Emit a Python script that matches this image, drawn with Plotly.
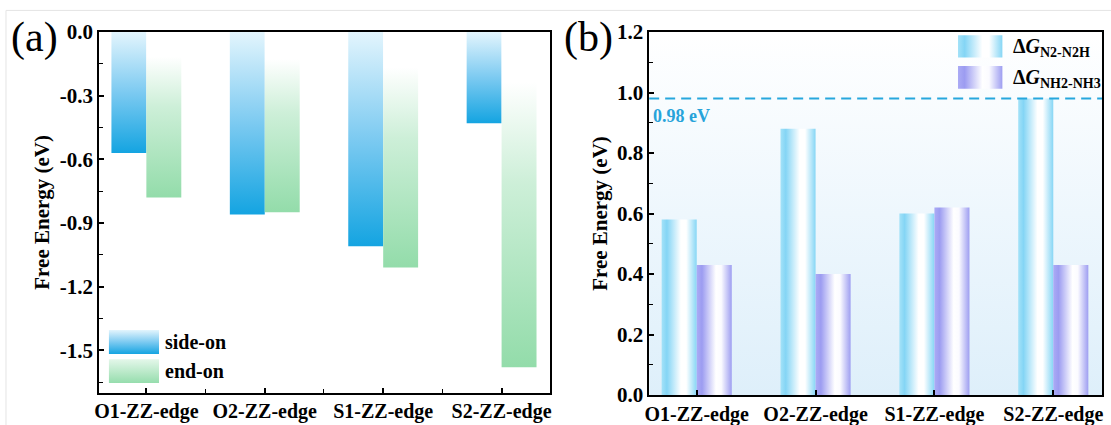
import plotly.graph_objects as go

# ---------------- data ----------------
categories = ["O1-ZZ-edge", "O2-ZZ-edge", "S1-ZZ-edge", "S2-ZZ-edge"]
side_on = [-0.57, -0.86, -1.01, -0.43]
end_on = [-0.78, -0.85, -1.11, -1.58]
dg_n2_n2h = [0.58, 0.88, 0.60, 0.98]
dg_nh2_nh3 = [0.43, 0.40, 0.62, 0.43]
limit_value = 0.98
ticks_a = [0.0, -0.3, -0.6, -0.9, -1.2, -1.5]
ticks_b = [0.0, 0.2, 0.4, 0.6, 0.8, 1.0, 1.2]
legend_a = ["side-on", "end-on"]
legend_b = ["Δ<i>G</i><sub>N2-N2H</sub>", "Δ<i>G</i><sub>NH2-NH3</sub>"]

# ---------------- layout constants ----------------
W, H = 1111, 425
ML, MR, MT, MB = 99, 9.3, 31.6, 30
PW = W - ML - MR
PH = H - MT - MB
dom_a = [0, (550 - ML) / PW]
dom_b = [(649 - ML) / PW, 1]
ydom_a = [(395 - 392.7) / PH, 1]
XR = [-0.40, 3.41]
YR_A = [-1.70, 0.0]
YR_B = [0.0, 1.2]
BAR_W = 0.295
FONT = "Liberation Serif, Times New Roman, Times, serif"

idx = list(range(len(categories)))


def rect(x0, x1, y0, y1):
    return [x0, x1, x1, x0, x0], [y0, y0, y1, y1, y0]


def bar(center, base, top):
    return rect(center - BAR_W / 2, center + BAR_W / 2, base, top)


def fx(frac):
    return XR[0] + frac * (XR[1] - XR[0])


def fy(frac, yr):
    return yr[0] + frac * (yr[1] - yr[0])


def filled(x, y, gtype, scale, xa, ya):
    return go.Scatter(x=x, y=y, mode="lines", line=dict(width=0), fill="toself",
                      fillgradient=dict(type=gtype, colorscale=scale),
                      showlegend=False, hoverinfo="skip", xaxis=xa, yaxis=ya)


fig = go.Figure()

# colour scales
side_scale = [[0, "#14a4e1"], [0.5, "#7ccaf1"], [1, "#e3f5fd"]]
end_scale = [[0, "#93dcaa"], [0.55, "#cdefd8"], [0.85, "#ffffff"], [1, "#ffffff"]]
end_swatch = [[0, "#96ddad"], [1, "#e4f7ea"]]
cyan_scale = [[0, "#a4e2f8"], [0.15, "#84d5f5"], [0.55, "#ffffff"], [0.7, "#ffffff"], [1, "#86d6f5"]]
purp_scale = [[0, "#ababf5"], [0.15, "#9c9cf1"], [0.55, "#ffffff"], [0.7, "#fbfbff"], [1, "#9e9ef1"]]
bg_scale = [[0, "#deeffa"], [0.5, "#eef7fd"], [1, "#ffffff"]]

# ---- panel (b) background gradient ----
x, y = rect(XR[0], XR[1], YR_B[0], YR_B[1])
fig.add_trace(filled(x, y, "vertical", bg_scale, "x2", "y2"))

# ---- panel (a) bars ----
for i in idx:
    x, y = bar(i - BAR_W / 2, 0, side_on[i])
    fig.add_trace(filled(x, y, "vertical", side_scale, "x", "y"))
for i in idx:
    x, y = bar(i + BAR_W / 2, 0, end_on[i])
    fig.add_trace(filled(x, y, "vertical", end_scale, "x", "y"))

# ---- panel (b) bars ----
for i in idx:
    x, y = bar(i - BAR_W / 2, 0, dg_n2_n2h[i])
    fig.add_trace(filled(x, y, "horizontal", cyan_scale, "x2", "y2"))
for i in idx:
    x, y = bar(i + BAR_W / 2, 0, dg_nh2_nh3[i])
    fig.add_trace(filled(x, y, "horizontal", purp_scale, "x2", "y2"))

# ---- legends (large gradient swatches) ----
for lab, sc, yb, yt, yc in [
        (legend_a[0], side_scale, 0.107, 0.174, 0.140),
        (legend_a[1], end_swatch, 0.027, 0.093, 0.060)]:
    x, y = rect(fx(0.022), fx(0.133), fy(yb, YR_A), fy(yt, YR_A))
    fig.add_trace(filled(x, y, "vertical", sc, "x", "y"))
    fig.add_annotation(xref="x domain", yref="y domain", x=0.141, y=yc,
                       xanchor="left", yanchor="middle", showarrow=False, text=lab,
                       font=dict(family=FONT, size=20, color="black", weight="bold"))
for lab, sc, yb, yt, yc in [
        (legend_b[0], cyan_scale, 0.930, 0.991, 0.958),
        (legend_b[1], purp_scale, 0.844, 0.906, 0.872)]:
    x, y = rect(fx(0.682), fx(0.780), fy(yb, YR_B), fy(yt, YR_B))
    fig.add_trace(filled(x, y, "horizontal", sc, "x2", "y2"))
    fig.add_annotation(xref="x2 domain", yref="y2 domain", x=0.799, y=yc,
                       xanchor="left", yanchor="middle", showarrow=False, text=lab,
                       font=dict(family=FONT, size=20, color="black", weight="bold"))

# ---- axes ----
tick_font = dict(family=FONT, size=21, color="black", weight="bold")
title_font = dict(family=FONT, size=21, color="black", weight="bold")
minor_style = dict(ticks="inside", ticklen=4, tickwidth=1.2, tickcolor="black")
axis_common = dict(
    showline=True, mirror=True, linecolor="black", linewidth=1.5,
    ticks="inside", ticklen=5, tickwidth=1.5, tickcolor="black",
    showgrid=False, zeroline=False, tickfont=tick_font, automargin=False,
)
xcommon = dict(axis_common, range=XR, tickmode="array", tickvals=idx, ticktext=categories,
               tickangle=0,
               tickfont=dict(family=FONT, size=20, color="black", weight="bold"))

fig.update_layout(
    width=W, height=H,
    margin=dict(l=ML, r=MR, t=MT, b=MB, autoexpand=False),
    paper_bgcolor="white", plot_bgcolor="rgba(0,0,0,0)",
    showlegend=False,
    xaxis=dict(xcommon, domain=dom_a, anchor="y",
               minor=dict(minor_style, tickmode="array", tickvals=[0.5, 1.5, 2.5])),
    yaxis=dict(axis_common, domain=ydom_a, anchor="x", range=YR_A,
               tickmode="array", tickvals=ticks_a, ticktext=[f"{v:.1f}" for v in ticks_a],
               minor=dict(minor_style, tickmode="array",
                          tickvals=[-0.15, -0.45, -0.75, -1.05, -1.35, -1.65]),
               title=dict(text="Free Energy (eV)", standoff=4, font=title_font)),
    xaxis2=dict(xcommon, domain=dom_b, anchor="y2"),
    yaxis2=dict(axis_common, domain=[0, 1], anchor="x2", range=YR_B,
                tickmode="array", tickvals=ticks_b, ticktext=[f"{v:.1f}" for v in ticks_b],
                minor=dict(minor_style, tickmode="array",
                           tickvals=[0.1, 0.3, 0.5, 0.7, 0.9, 1.1]),
                title=dict(text="Free Energy (eV)", standoff=4, font=title_font)),
)

# dashed limiting line
fig.add_shape(type="line", xref="x2 domain", x0=0, x1=1, yref="y2",
              y0=limit_value, y1=limit_value,
              line=dict(color="#27a7dd", width=2, dash="10px,6px"))
fig.add_annotation(xref="x2 domain", x=0.005, yref="y2", y=limit_value,
                   xanchor="left", yanchor="top", yshift=-5, showarrow=False,
                   text=f"{limit_value:.2f} eV",
                   font=dict(family=FONT, size=18, color="#27a3da", weight="bold"))

# panel labels
for lab, px in (("(a)", 9), ("(b)", 562)):
    fig.add_annotation(xref="paper", yref="paper", x=(px - ML) / PW, y=1 + (MT - 12) / PH,
                       xanchor="left", yanchor="top", showarrow=False, text=lab,
                       font=dict(family=FONT, size=42, color="black"))

# faint outer frame of the image (top and left edges visible)
fig.add_shape(type="rect", xref="paper", yref="paper",
              x0=(6 - ML) / PW, x1=(W + 5 - ML) / PW,
              y0=-(MB + 5) / PH, y1=1 + (MT - 10) / PH,
              line=dict(color="#e4e4e4", width=1), layer="below")

fig.write_html("out.html")
